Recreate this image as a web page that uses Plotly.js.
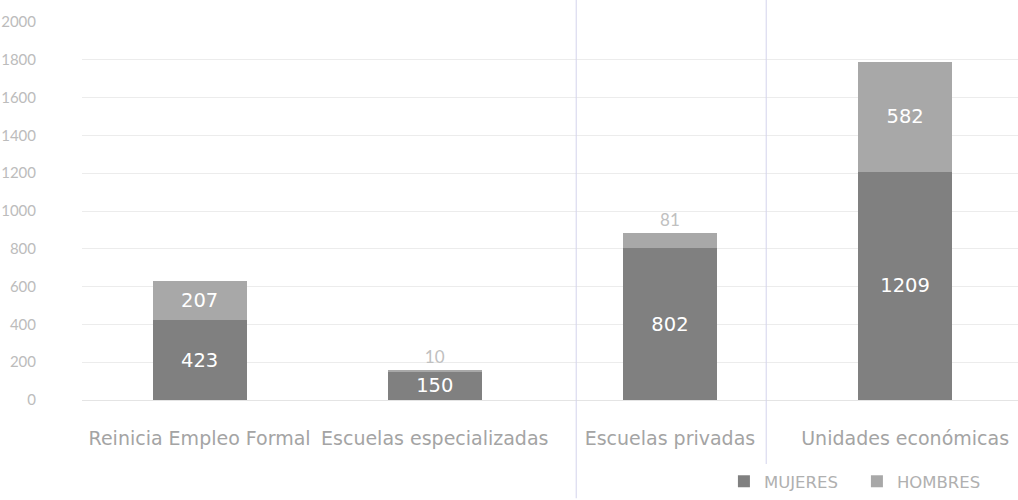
<!DOCTYPE html>
<html>
<head>
<meta charset="utf-8">
<script src="https://cdn.plot.ly/plotly-3.0.1.min.js"></script>
<style>html,body{margin:0;padding:0;background:#fff;}#chart{width:1018px;height:500px;}</style>
</head>
<body>
<div id="chart"></div>
<script>
const categories = ["Reinicia Empleo Formal", "Escuelas especializadas", "Escuelas privadas", "Unidades económicas"];
const mujeres = [423, 150, 802, 1209];
const hombres = [207, 10, 81, 582];
const yTicks = [0, 200, 400, 600, 800, 1000, 1200, 1400, 1600, 1800, 2000];

const wideFont = "'DejaVu Sans', Verdana, sans-serif";
const thinFont = "Lato, 'Open Sans', sans-serif";

const traces = [
  {
    type: "bar", name: "MUJERES", x: categories, y: mujeres,
    marker: {color: "#808080"}, width: 0.4,
    text: mujeres.map(String), textposition: "inside", insidetextanchor: "middle",
    insidetextfont: {color: "#ffffff", size: 19.5, family: wideFont},
    constraintext: "none", hoverinfo: "skip"
  },
  {
    type: "bar", name: "HOMBRES", x: categories, y: hombres,
    marker: {color: "#a8a8a8"}, width: 0.4,
    text: hombres.map(String),
    textposition: hombres.map(v => v < 100 ? "outside" : "inside"),
    insidetextanchor: "middle",
    insidetextfont: {color: "#ffffff", size: 19.5, family: wideFont},
    outsidetextfont: {color: "#c0c0c0", size: 17, family: thinFont},
    constraintext: "none", cliponaxis: false, hoverinfo: "skip"
  }
];

const layout = {
  width: 1018, height: 500,
  margin: {l: 82, r: 0, t: 22, b: 100},
  paper_bgcolor: "#ffffff", plot_bgcolor: "#ffffff",
  barmode: "stack",
  font: {family: thinFont, color: "#a8a8a8", size: 16},
  xaxis: {
    type: "category", range: [-0.5, 3.48], automargin: false,
    showgrid: false, zeroline: false, showline: false, ticks: "",
    tickfont: {size: 19, color: "#a4a4a4", family: wideFont},
    ticklabelstandoff: 25
  },
  yaxis: {
    range: [0, 2000], tickvals: yTicks, ticktext: yTicks.map(String), automargin: false,
    showgrid: true, gridcolor: "#ececec", gridwidth: 1,
    zeroline: true, zerolinecolor: "#e4e4e4", showline: false, ticks: "",
    tickfont: {size: 15, color: "#bcbcbc", family: thinFont},
    ticklabelstandoff: 45
  },
  showlegend: true,
  legend: {
    orientation: "h", x: 0.970, xanchor: "right", y: -0.262, yanchor: "bottom",
    font: {size: 16.5, color: "#b0b0b0", family: wideFont},
    traceorder: "normal", itemwidth: 30, itemclick: false,
    entrywidth: 88, entrywidthmode: "pixels"
  },
  shapes: [
    {type: "line", xref: "paper", yref: "paper", x0: 0.528, x1: 0.528, y0: -0.26, y1: 1.06, line: {color: "#d4d4ec", width: 1}},
    {type: "line", xref: "paper", yref: "paper", x0: 0.731, x1: 0.731, y0: -0.26, y1: 1.06, line: {color: "#d4d4ec", width: 1}}
  ]
};

Plotly.newPlot("chart", traces, layout, {displayModeBar: false, staticPlot: true});
</script>
</body>
</html>
